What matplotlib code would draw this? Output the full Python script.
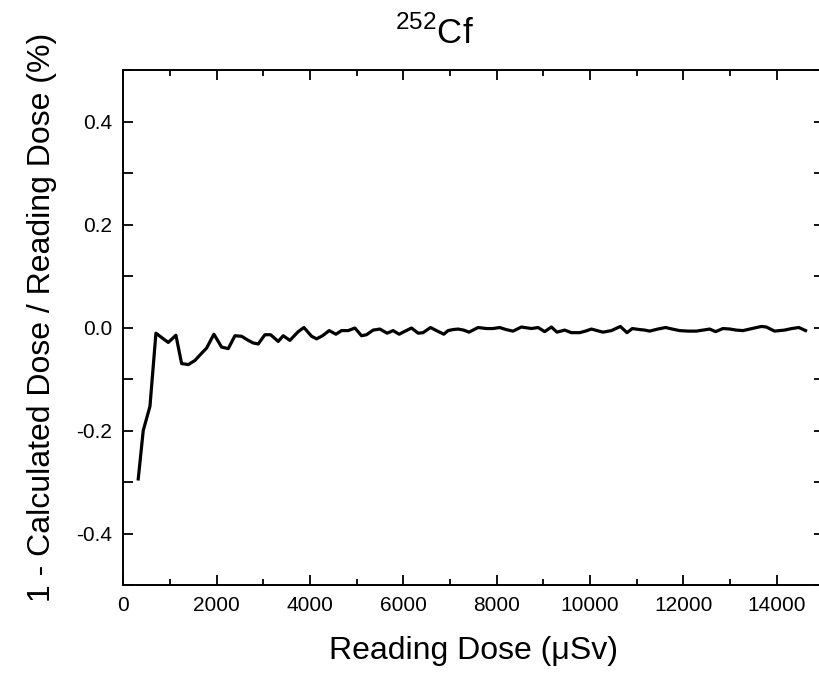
import matplotlib
matplotlib.use('Agg')
import matplotlib.pyplot as plt
from matplotlib.ticker import MultipleLocator

plt.rcParams['font.family'] = ['Liberation Sans', 'DejaVu Sans']
plt.rcParams['mathtext.fontset'] = 'custom'
plt.rcParams['mathtext.rm'] = 'Liberation Sans'

# reading dose (uSv)
reading_dose = [321, 428, 572, 700, 830, 964, 1128, 1250, 1393, 1535, 1678, 1785,
                1942, 2106, 2249, 2392, 2535, 2677, 2784, 2891, 3034, 3156, 3319, 3426,
                3570, 3748, 3870, 4034, 4141, 4269, 4411, 4555, 4676, 4819, 4962, 5104,
                5211, 5354, 5496, 5652, 5780, 5909, 6040, 6174, 6316, 6423, 6581, 6709,
                6866, 6958, 7065, 7172, 7290, 7407, 7600, 7780, 7920, 8065, 8200, 8349,
                8529, 8743, 8885, 9028, 9171, 9291, 9456, 9599, 9777, 9900, 10028, 10150,
                10276, 10456, 10649, 10790, 10905, 11062, 11170, 11276, 11450, 11618, 11760,
                11918, 12100, 12276, 12420, 12560, 12689, 12845, 13000, 13130, 13273, 13470,
                13667, 13774, 13952, 14166, 14320, 14472, 14616]
# 1 - calculated / reading (%)
rel_diff = [-0.294, -0.200, -0.153, -0.011, -0.020, -0.029, -0.015, -0.070, -0.072, -0.064,
            -0.050, -0.040, -0.013, -0.038, -0.041, -0.016, -0.017, -0.025, -0.030, -0.032,
            -0.014, -0.014, -0.027, -0.016, -0.025, -0.008, 0.000, -0.017, -0.022, -0.016,
            -0.006, -0.013, -0.006, -0.006, -0.001, -0.016, -0.014, -0.005, -0.003, -0.011,
            -0.006, -0.013, -0.007, -0.001, -0.011, -0.010, 0.000, -0.006, -0.013, -0.006,
            -0.004, -0.003, -0.005, -0.009, 0.000, -0.002, -0.002, 0.000, -0.004, -0.007,
            0.001, -0.002, 0.000, -0.008, 0.001, -0.009, -0.005, -0.010, -0.010, -0.007,
            -0.003, -0.006, -0.009, -0.006, 0.002, -0.010, -0.002, -0.004, -0.005, -0.007,
            -0.003, 0.000, -0.003, -0.006, -0.007, -0.007, -0.005, -0.003, -0.008, -0.002,
            -0.003, -0.005, -0.006, -0.002, 0.002, 0.001, -0.007, -0.005, -0.002, 0.000,
            -0.006]

fig = plt.figure(figsize=(8.19, 6.75), dpi=100)
ax = fig.add_axes([0.1505, 0.1333, 0.855, 0.763])

ax.plot(reading_dose, rel_diff, color='black', lw=2.3)

ax.set_xlim(0, 15000)
ax.set_ylim(-0.5, 0.5)
ax.xaxis.set_major_locator(MultipleLocator(2000))
ax.xaxis.set_minor_locator(MultipleLocator(1000))
ax.yaxis.set_major_locator(MultipleLocator(0.2))
ax.yaxis.set_minor_locator(MultipleLocator(0.1))
ax.yaxis.set_major_formatter(plt.FuncFormatter(lambda v, p: f'{v:.1f}'))

ax.tick_params(which='both', direction='in', top=True, right=True, width=1.3, labelsize=15)
ax.tick_params(which='major', length=7, pad=8)
ax.tick_params(axis='x', which='minor', length=4)
ax.tick_params(axis='y', which='minor', length=7)
for s in ax.spines.values():
    s.set_linewidth(1.4)

ax.set_xlabel('Reading Dose (μSv)', fontsize=23, labelpad=15)
ax.set_ylabel('1 - Calculated Dose / Reading Dose (%)', fontsize=23)
ax.yaxis.set_label_coords(-0.095, 0.52)
fig.text(0.531, 0.935, r'$^{252}$Cf', fontsize=25, ha='center', va='baseline')

fig.savefig('out.png', dpi=100)
